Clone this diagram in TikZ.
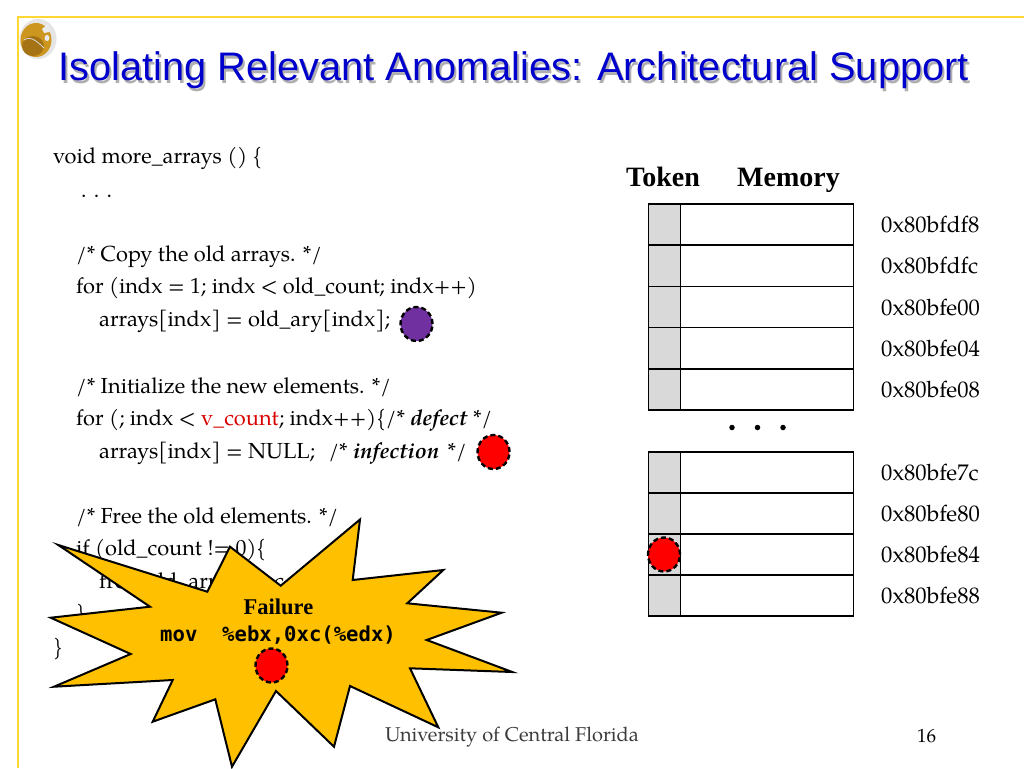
\documentclass[tikz,border=0pt]{standalone}
\usepackage{fontspec}
\usetikzlibrary{shapes.geometric}
\setmainfont{TeX Gyre Pagella}
\newfontfamily\timesf{Liberation Serif}
\newfontfamily\arialf{Liberation Sans}
\newfontfamily\monof{DejaVu Sans Mono}
\definecolor{slideborder}{RGB}{255,215,50}
\definecolor{titleblue}{RGB}{0,0,204}
\definecolor{titleshadow}{RGB}{175,175,175}
\definecolor{tokengray}{RGB}{217,217,217}
\definecolor{stargold}{RGB}{255,192,0}
\definecolor{bugpurple}{RGB}{112,48,160}
\definecolor{foot}{RGB}{60,60,60}
\definecolor{logogold}{RGB}{205,150,30}
\definecolor{logodark}{RGB}{165,115,20}
\tikzset{
  x=1pt,y=-1pt,
  code/.style={anchor=base west,inner sep=0pt,font=\fontsize{21.8}{24}\selectfont},
  addr/.style={anchor=base west,inner sep=0pt,font=\fontsize{22.6}{24}\selectfont},
  foottext/.style={anchor=base west,inner sep=0pt,text=foot,font=\fontsize{20}{24}\selectfont},
  pagetext/.style={anchor=base west,inner sep=0pt,font=\fontsize{19}{24}\selectfont},
  head/.style={anchor=base west,inner sep=0pt,font=\timesf\bfseries\fontsize{28}{32}\selectfont},
  titletext/.style={anchor=base west,inner sep=0pt,font=\arialf\fontsize{39.8}{44}\selectfont},
  bug/.style={ellipse,draw=black,line width=2.4pt,dash pattern=on 5pt off 3pt,minimum width=32pt,minimum height=34pt,inner sep=0pt},
  tok/.style={draw=black,line width=1.6pt,fill=tokengray,minimum width=32pt,minimum height=41pt,inner sep=0pt},
  mem/.style={draw=black,line width=1.6pt,fill=white,minimum width=173pt,minimum height=41pt,inner sep=0pt},
  dotnode/.style={circle,fill=black,inner sep=0pt,minimum size=5.5pt},
}
\begin{document}
\begin{tikzpicture}
\useasboundingbox (0,0) rectangle (1024,768);
\fill[white] (0,0) rectangle (1024,768);
% slide frame
\draw[slideborder,line width=2pt] (17.5,768) -- (17.5,17.5) -- (1024,17.5);
% logo
\fill[white!90!black] (38,39) ellipse (18.5 and 20);
\fill[logogold] (36,40) ellipse (15.5 and 17);
\fill[logodark] (33,46) ellipse (11 and 10);
\fill[white!92!black] (42,29) -- (48,24) -- (50,32) -- (44,33) -- cycle;
\fill[white!92!black] (47,38) ellipse (2.5 and 3);
\draw[white!85!black,line width=0.8pt] (24,40) .. controls (30,36) and (36,40) .. (44,48);
\draw[logogold,line width=1.5pt] (38,24) .. controls (42,28) and (42,32) .. (37,35);
% title
\node[titletext,text=titleshadow] at (60,83) {Isolating Relevant Anomalies: Architectural Support};
\node[titletext,text=titleblue] (title) at (58,81) {Isolating Relevant Anomalies: Architectural Support};
% code
\node[code] (c1) at (53,163) {void more\_arrays () \{};
\node[code] (c2) at (81,197) {. . .};
\node[code] (c3) at (76,261) {/* Copy the old arrays. */};
\node[code] (c4) at (76,293) {for (indx = 1; indx < old\_count; indx++)};
\node[code] (c5) at (99,326) {arrays[indx] = old\_ary[indx];};
\node[code] (c6) at (76,393) {/* Initialize the new elements. */};
\node[code] (c7) at (76,425) {for (; indx < \textcolor{red!85!black}{v\_count}; indx++)\{/* \textbf{\textit{defect}} */};
\node[code] (c8) at (99,458) {arrays[indx] = NULL;\hspace{8pt} /* \textbf{\textit{infection}}\hspace{3pt} */};
\node[code] (c9) at (76,523) {/* Free the old elements. */};
\node[code] (c10) at (76,555) {if (old\_count != 0)\{};
\node[code] (c11) at (99,588) {free(old\_arrays, \hspace{16pt}c};
\node[code] (c12) at (76,620) {\}};
\node[code] (c13) at (53,654) {\}};
\node[bug,fill=bugpurple] (b1) at (416.5,324) {};
\node[bug,fill=red] (b2) at (493.5,452) {};
% headings
\node[head] (token) at (626,186) {Token};
\node[head] (memory) at (737,186) {Memory};
% tables
\foreach \n/\y in {1/224.5,2/266,3/307,4/348,5/389.5}{
  \node[tok] (t\n) at (664.5,\y) {};
  \node[mem] (m\n) at (767,\y) {};
}
\foreach \n/\y in {6/472.5,7/513.5,8/554.5,9/595.5}{
  \node[tok] (t\n) at (664.5,\y) {};
  \node[mem] (m\n) at (767,\y) {};
}
\node[dotnode] (d1) at (732,427.5) {};
\node[dotnode] (d2) at (757.5,427.5) {};
\node[dotnode] (d3) at (783,427.5) {};
% addresses
\node[addr] (a1) at (881,232) {0x80bfdf8};
\node[addr] (a2) at (881,273) {0x80bfdfc};
\node[addr] (a3) at (881,315) {0x80bfe00};
\node[addr] (a4) at (881,356) {0x80bfe04};
\node[addr] (a5) at (881,397) {0x80bfe08};
\node[addr] (a6) at (881,480) {0x80bfe7c};
\node[addr] (a7) at (881,521) {0x80bfe80};
\node[addr] (a8) at (881,562) {0x80bfe84};
\node[addr] (a9) at (881,603) {0x80bfe88};
\node[bug,fill=red] (b3) at (664,554.5) {};
% star
\draw[fill=stargold,draw=black,line width=2pt,line join=miter]
 (360,519.5) -- (352.7,580) -- (443.3,570) -- (407.3,603.3) -- (501.7,612.7) -- (426.7,640)
 -- (512.3,672) -- (410,668.3) -- (438.3,727.3) -- (350,686) -- (334,746.7) -- (276,691)
 -- (232,766.7) -- (215.3,699.3) -- (152.7,721.7) -- (172.7,680) -- (54,686.7) -- (130.7,654)
 -- (50.7,617.7) -- (150,606.7) -- (58.3,545) -- (207.3,591.7) -- (230,546.7) -- (280.7,585.7) -- cycle;
\node[anchor=base,inner sep=0pt,font=\timesf\bfseries\fontsize{22.5}{24}\selectfont] (fail) at (278.5,614) {Failure};
\node[anchor=base west,inner sep=0pt,font=\monof\bfseries\fontsize{20.6}{24}\selectfont] (mov) at (160,641) {mov\ \ \%ebx,0xc(\%edx)};
\node[bug,fill=red] (b4) at (271.5,665.5) {};
% footer
\node[foottext] (uni) at (385,741) {University of Central Florida};
\node[pagetext] (pg) at (917,742) {16};
\end{tikzpicture}
\end{document}
